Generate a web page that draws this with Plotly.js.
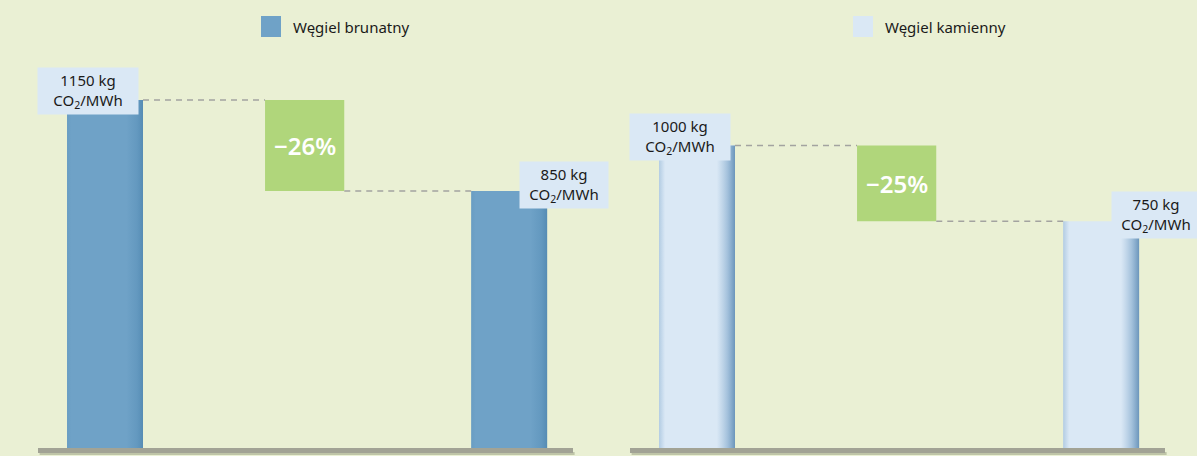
<!DOCTYPE html>
<html>
<head>
<meta charset="utf-8">
<script src="https://cdn.plot.ly/plotly-3.0.1.min.js"></script>
<style>html,body{margin:0;padding:0;background:#eaf0d4;}</style>
</head>
<body>
<div id="chart" style="width:1197px;height:456px;"></div>
<script>
// ---- data ----
const fuels = ['Węgiel brunatny', 'Węgiel kamienny'];
const stages = [0, 1];
const before = [1150, 1000];
const after = [850, 750];
const reductionLabels = ['−26%', '−25%'];
const unitLabel = 'kg<br>CO<sub>2</sub>/MWh';

// ---- style ----
const BG = '#eaf0d4';
const mainColors = ['#6fa2c7', '#dae8f5'];
const BW = 0.188;          // bar width in axis units
const FONT = 'Noto Sans, Open Sans, sans-serif';

const xaxes = ['x', 'x2'];
const traces = [];

const hShade = [
  [[0, 'rgba(60,120,165,0.12)'], [0.06, 'rgba(60,120,165,0)'], [0.78, 'rgba(60,120,165,0)'], [0.92, 'rgba(60,120,165,0.22)'], [1, 'rgba(55,112,155,0.45)']],
  [[0, 'rgba(130,170,205,0.45)'], [0.08, 'rgba(130,170,205,0)'], [0.76, 'rgba(130,170,205,0)'], [0.9, 'rgba(110,155,195,0.5)'], [1, 'rgba(95,140,180,0.9)']]
];

fuels.forEach((name, i) => {
  const ys = [before[i], after[i]];
  const xa = xaxes[i];
  traces.push({
    type: 'bar', x: stages, y: ys, width: BW, name: name,
    xaxis: xa, yaxis: 'y', marker: {color: mainColors[i], line: {width: 0}},
    hoverinfo: 'skip', showlegend: false
  });
  // edge shading overlay for each bar, derived from the bar's data
  stages.forEach((sx, k) => {
    const v = ys[k];
    const xl = sx - BW / 2, xr = sx + BW / 2;
    traces.push({
      type: 'scatter', mode: 'lines', xaxis: xa, yaxis: 'y',
      x: [xl, xr, xr, xl, xl], y: [0, 0, v, v, 0],
      fill: 'toself', line: {width: 0, color: 'rgba(0,0,0,0)'},
      fillgradient: {type: 'horizontal', colorscale: hShade[i]},
      hoverinfo: 'skip', showlegend: false
    });
  });
});

const shapes = [];
const annotations = [];
const valueBoxes = [
  // [xshift, yshift, width]
  [-17, 9, 92],
  [54.5, 6, 80]
];

fuels.forEach((name, i) => {
  const xa = xaxes[i];
  const gx0 = 0.396, gx1 = 0.592;
  // baseline
  shapes.push({type: 'rect', xref: xa + ' domain', x0: 0.003, x1: 1.003, yref: 'y', ysizemode: 'pixel', yanchor: 0, y0: -6, y1: -3,
    fillcolor: 'rgba(140,145,115,0.45)', line: {width: 0}, layer: 'above'});
  shapes.push({type: 'rect', xref: xa + ' domain', x0: 0, x1: 1, yref: 'y', ysizemode: 'pixel', yanchor: 0, y0: -4, y1: 1,
    fillcolor: '#a2a395', line: {width: 0}, layer: 'above'});
  // reduction box
  shapes.push({type: 'rect', xref: xa, yref: 'y', x0: gx0, x1: gx1, y0: after[i], y1: before[i],
    fillcolor: '#b0d67b', line: {width: 0}, layer: 'below'});
  // dashed connectors
  shapes.push({type: 'line', xref: xa, yref: 'y', x0: stages[0] + BW / 2, x1: gx0, y0: before[i], y1: before[i],
    line: {color: '#a3a3a0', width: 1.5, dash: '6px,5px'}});
  shapes.push({type: 'line', xref: xa, yref: 'y', x0: gx1, x1: stages[1] - BW / 2, y0: after[i], y1: after[i],
    line: {color: '#a3a3a0', width: 1.5, dash: '6px,5px'}});
  // reduction label
  annotations.push({xref: xa, yref: 'y', x: (gx0 + gx1) / 2, y: (before[i] + after[i]) / 2,
    text: reductionLabels[i], showarrow: false, xanchor: 'center', yanchor: 'middle',
    font: {family: FONT, size: 24, color: '#ffffff', weight: 600}});
  // value boxes
  [before[i], after[i]].forEach((v, k) => {
    const vb = valueBoxes[k];
    annotations.push({xref: xa, yref: 'y', x: stages[k], y: v, text: v + ' ' + unitLabel,
      showarrow: false, xanchor: 'center', yanchor: 'middle', xshift: vb[0], yshift: vb[1],
      width: vb[2], height: 38, borderpad: 4, bgcolor: '#dae8f5',
      font: {family: FONT, size: 15, color: '#1a1a1a'}});
  });
});

// legend (swatch + label per fuel)
const legendPos = [[261, 291], [853, 883]];
fuels.forEach((name, i) => {
  const [sx, tx] = legendPos[i];
  shapes.push({type: 'rect', xref: 'paper', yref: 'paper', x0: sx / 1197, x1: (sx + 20) / 1197,
    y0: 1 - 37 / 456, y1: 1 - 16 / 456, fillcolor: mainColors[i], line: {width: 0}});
  annotations.push({xref: 'paper', yref: 'paper', x: tx / 1197, y: 1 - 27 / 456, xanchor: 'left', yanchor: 'middle',
    text: name, showarrow: false, font: {family: FONT, size: 15, color: '#1a1a1a'}});
});

const xcommon = {range: [-0.1658, 1.158], showgrid: false, zeroline: false, showticklabels: false, ticks: '', showline: false, fixedrange: true};

const layout = {
  width: 1197, height: 456,
  margin: {l: 0, r: 0, t: 0, b: 0},
  paper_bgcolor: BG, plot_bgcolor: BG,
  barmode: 'overlay', showlegend: false,
  xaxis: Object.assign({domain: [38 / 1197, 573 / 1197], anchor: 'y'}, xcommon),
  xaxis2: Object.assign({domain: [630 / 1197, 1165 / 1197], anchor: 'y'}, xcommon),
  yaxis: {range: [-23.1, 1479.4], showgrid: false, zeroline: false, showticklabels: false, ticks: '', showline: false, fixedrange: true},
  shapes: shapes,
  annotations: annotations,
  font: {family: FONT}
};

Plotly.newPlot('chart', traces, layout, {staticPlot: true, displayModeBar: false});
</script>
</body>
</html>
